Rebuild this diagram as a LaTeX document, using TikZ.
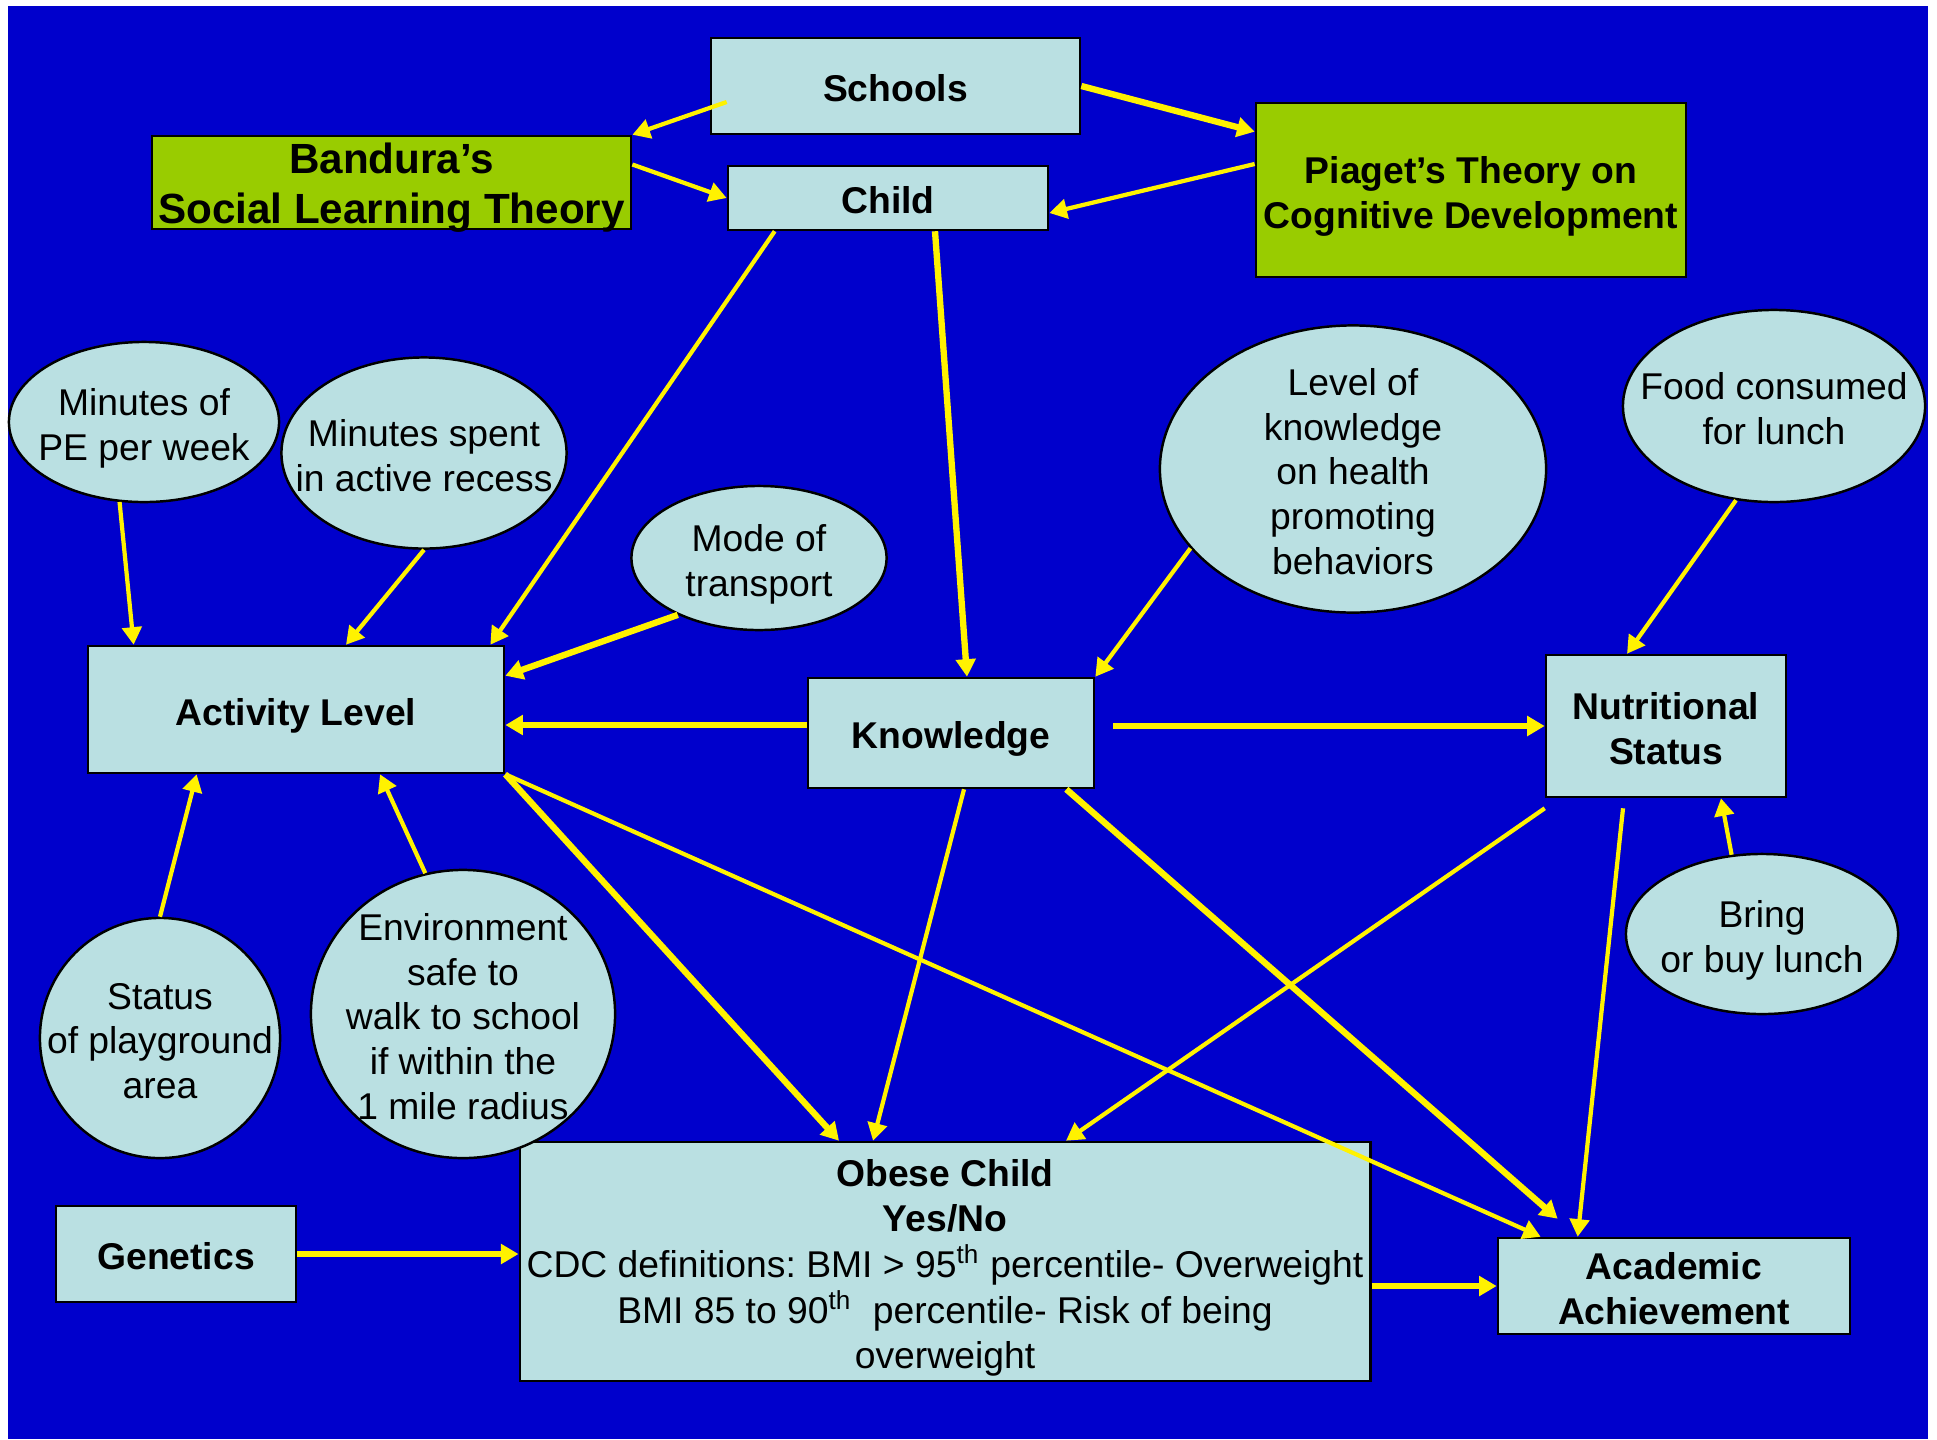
\documentclass[tikz,border=0pt]{standalone}
\usepackage{fontspec}
\setmainfont{Liberation Sans}
\usetikzlibrary{arrows.meta,calc,shapes.geometric}
\definecolor{slidebg}{RGB}{0,0,204}
\definecolor{boxfill}{RGB}{186,224,226}
\definecolor{theoryfill}{RGB}{153,204,0}
\newcommand{\lowtext}[1]{\makebox[0pt]{\smash{\raisebox{-4.7pt}{\begin{tabular}{@{}c@{}}#1\end{tabular}}}}}
\frenchspacing

\begin{document}
\begin{tikzpicture}[x=0.01cm,y=-0.01cm,
	box/.style={rectangle,draw=black,line width=0.7pt,fill=boxfill,inner sep=0pt,
		font=\fontsize{10.6}{12.7}\selectfont\bfseries},
	theory/.style={box,fill=theoryfill},
	bubble/.style={ellipse,draw=black,line width=0.7pt,fill=boxfill,inner sep=0pt,
		font=\fontsize{10.6}{12.7}\selectfont},
	arr/.style={draw=yellow,line width=1.2pt,-{Triangle[length=5pt,width=5.5pt]}},
	thickarr/.style={arr,line width=1.8pt}]
\fill[white] (0,0) rectangle (1937,1439);
\fill[slidebg] (8,6) rectangle (1928,1439);

\node[box,minimum width=8.5cm,minimum height=2.39cm] (obese) at (945,1261.5) {\lowtext{Obese Child\\Yes/No\\
	\mdseries CDC definitions: BMI > 95\textsuperscript{th} percentile- Overweight\\
	\mdseries BMI 85 to 90\textsuperscript{th}\ \ percentile- Risk of being\\
	\mdseries overweight}};
\node[box,minimum width=3.69cm,minimum height=0.96cm] (schools) at (895.5,86) {\lowtext{Schools}};
\node[theory,minimum width=4.79cm,minimum height=0.93cm,
	font=\fontsize{12}{14.4}\selectfont\bfseries] (bandura) at (391.5,182.5) {\lowtext{Bandura’s\\Social Learning Theory}};
\node[box,minimum width=3.2cm,minimum height=0.64cm] (child) at (888,198) {\lowtext{Child}};
\node[theory,minimum width=4.3cm,minimum height=1.74cm] (piaget) at (1471,190) {\lowtext{Piaget’s Theory on\\Cognitive Development}};
\node[box,minimum width=4.16cm,minimum height=1.27cm] (activity) at (296,709.5) {\lowtext{Activity Level}};
\node[box,minimum width=2.86cm,minimum height=1.1cm] (knowledge) at (951,733) {\lowtext{Knowledge}};
\node[box,minimum width=2.4cm,minimum height=1.42cm] (nutri) at (1666,726) {\lowtext{Nutritional\\Status}};
\node[box,minimum width=2.4cm,minimum height=0.96cm] (genetics) at (176,1254) {\lowtext{Genetics}};
\node[box,minimum width=3.52cm,minimum height=0.96cm] (academic) at (1674,1286) {\lowtext{Academic\\Achievement}};

\node[bubble,minimum width=2.7cm,minimum height=1.6cm] (pe) at (144,422) {\lowtext{Minutes of\\PE per week}};
\node[bubble,minimum width=2.85cm,minimum height=1.91cm] (recess) at (424,453) {\lowtext{Minutes spent\\in active recess}};
\node[bubble,minimum width=2.55cm,minimum height=1.44cm] (mode) at (759,558) {\lowtext{Mode of\\transport}};
\node[bubble,minimum width=3.86cm,minimum height=2.87cm] (level) at (1353,469) {\lowtext{Level of\\knowledge\\on health\\promoting\\behaviors}};
\node[bubble,minimum width=3.02cm,minimum height=1.92cm] (food) at (1774,406) {\lowtext{Food consumed\\for lunch}};
\node[bubble,minimum width=2.4cm,minimum height=2.4cm] (status) at (160,1038) {\lowtext{Status\\of playground\\area}};
\node[bubble,minimum width=3.04cm,minimum height=2.88cm] (environ) at (463,1014) {\lowtext{Environment\\safe to\\walk to school\\if within the\\1 mile radius}};
\node[bubble,minimum width=2.72cm,minimum height=1.6cm] (bring) at (1762,934) {\lowtext{Bring\\or buy lunch}};

\draw[arr] ($(schools.west)+(17,16)$) -- (bandura.north east);
\draw[thickarr] (schools.east) -- ($(piaget.north west)+(0,30)$);
\draw[arr] ($(bandura.east)+(0,-18)$) -- (child.west);
\draw[arr] ($(piaget.west)+(0,-26)$) -- ($(child.east)+(0,15)$);
\draw[arr] ($(child.south west)+(48,0)$) -- ($(activity.north east)+(-15,0)$);
\draw[thickarr] ($(child.south)+(47,0)$) -- ($(knowledge.north)+(16,0)$);
\draw[arr] (pe.-107) -- ($(activity.north west)+(47,0)$);
\draw[arr] (recess.south) -- ($(activity.north)+(50,0)$);
\draw[thickarr] (mode.-145) -- ($(activity.north east)+(0,31)$);
\draw[thickarr] ($(knowledge.west)+(0,-8)$) -- ($(activity.east)+(0,15.5)$);
\draw[arr] (level.-154) -- (knowledge.north east);
\draw[thickarr] ($(knowledge.east)+(18,-7)$) -- (nutri.west);
\draw[arr] (food.-112) -- ($(nutri.north)+(-39,0)$);
\draw[arr] (bring.111) -- ($(nutri.south)+(55,0)$);
\draw[thickarr] (activity.south east) -- ($(obese.north)+(-106,0)$);
\draw[arr] (activity.south east) -- ($(academic.north west)+(44,0)$);
\draw[arr] ($(knowledge.south)+(13,0)$) -- ($(obese.north)+(-72,0)$);
\draw[thickarr] ($(knowledge.south east)+(-29,0)$) -- ($(academic.north west)+(61,-18)$);
\draw[arr] ($(nutri.south west)+(0,10)$) -- ($(obese.north)+(121,0)$);
\draw[arr] ($(nutri.south)+(-43,10)$) -- ($(academic.north west)+(81,0)$);
\draw[arr] (environ.105) -- ($(activity.south)+(84,0)$);
\draw[arr] (status.north) -- ($(activity.south west)+(110,0)$);
\draw[thickarr] (genetics.east) -- ($(obese.west)+(0,-7.5)$);
\draw[thickarr] ($(obese.east)+(0,24.5)$) -- (academic.west);
\end{tikzpicture}
\end{document}
